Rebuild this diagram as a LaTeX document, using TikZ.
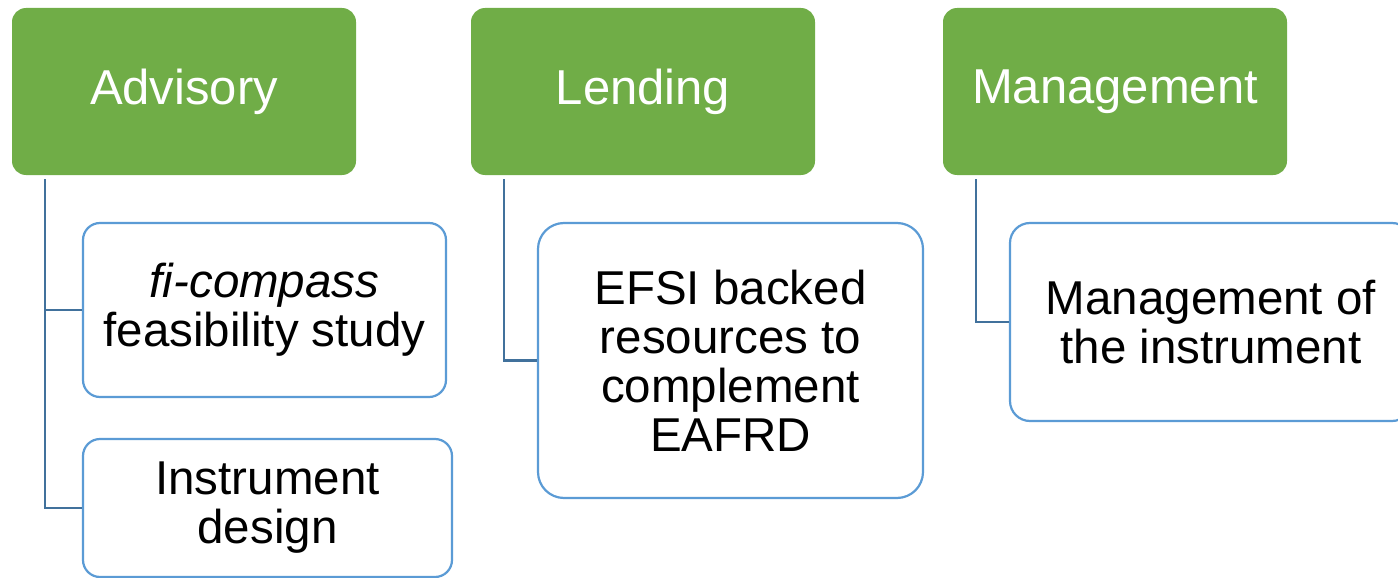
\documentclass[tikz,border=0pt]{standalone}
\usepackage{fontspec}
\setmainfont{Liberation Sans}
\definecolor{hgreen}{HTML}{70AD47}
\definecolor{bborder}{HTML}{5B9BD5}
\definecolor{conn}{HTML}{41719C}
\begin{document}
\begin{tikzpicture}[x=1pt,y=-1pt,
  greenbox/.style={fill=hgreen, rounded corners=14pt, text=white, align=center,
    font=\fontsize{49}{54}\selectfont, minimum width=344pt, minimum height=167pt, inner sep=0pt},
  whitebox/.style={draw=bborder, line width=2.2pt, fill=white, align=center,
    font=\fontsize{47.5}{49}\selectfont, inner sep=0pt},
  link/.style={draw=conn, line width=2.2pt}]
\useasboundingbox (0,0) rectangle (1398,578);
\clip (0,0) rectangle (1398,578);
% top-level boxes
\node[greenbox] (adv) at (184,91.5) {Advisory};
\node[greenbox] (len) at (643,91.5) {Lending};
\node[greenbox] (mgt) at (1115,91.5) {Management};
% child boxes
\node[whitebox, rounded corners=17pt, minimum width=363pt, minimum height=174pt] (fic) at (264.5,310) {\textit{fi-compass}\\feasibility study};
\node[whitebox, rounded corners=17pt, minimum width=369pt, minimum height=138pt] (ins) at (267.5,508) {Instrument\\design};
\node[whitebox, rounded corners=26pt, minimum width=385pt, minimum height=275pt] (efsi) at (730.5,360.5) {EFSI backed\\resources to\\complement\\EAFRD};
\node[whitebox, rounded corners=20pt, minimum width=402pt, minimum height=198pt] (mot) at (1211,322) {Management of\\the instrument};
% connectors
\coordinate (advtop) at ([xshift=33pt,yshift=-4pt]adv.south west);
\coordinate (lentop) at ([xshift=33pt,yshift=-4pt]len.south west);
\coordinate (mgttop) at ([xshift=33pt,yshift=-4pt]mgt.south west);
\draw[link] (advtop) |- (fic.west);
\draw[link] (advtop) |- (ins.west);
\draw[link] (lentop) |- (efsi.west);
\draw[link] (mgttop) |- (mot.west);
\end{tikzpicture}
\end{document}
